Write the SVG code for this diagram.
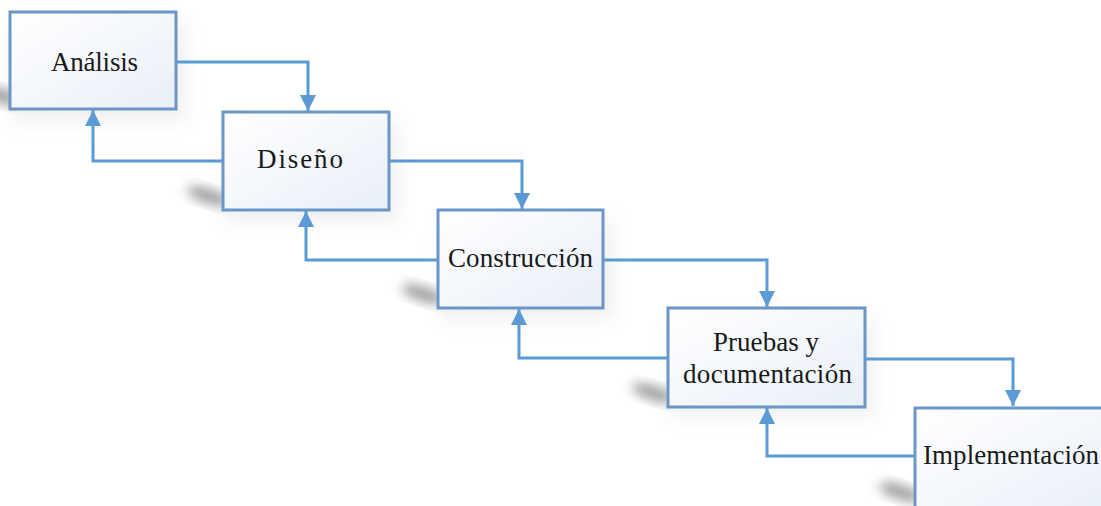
<svg xmlns="http://www.w3.org/2000/svg" width="1101" height="506" viewBox="0 0 1101 506">
<defs>
<linearGradient id="boxfill" x1="0" y1="0" x2="1" y2="1">
<stop offset="0" stop-color="#ffffff"/>
<stop offset="1" stop-color="#e9eff8"/>
</linearGradient>
<filter id="blur" x="-50%" y="-50%" width="200%" height="200%">
<feGaussianBlur stdDeviation="6"/>
</filter>
<filter id="blur2" x="-50%" y="-50%" width="200%" height="200%">
<feGaussianBlur stdDeviation="10"/>
</filter>
<marker id="arrow" viewBox="0 0 16 16" refX="16" refY="8" markerWidth="16" markerHeight="16" markerUnits="userSpaceOnUse" orient="auto">
<path d="M0,0 L16,8 L0,16 Z" fill="#5b9bd5"/>
</marker>
</defs>
<style>
.box{fill:url(#boxfill);stroke:#6b96c6;stroke-width:3}
.shadow{fill:#4a4a4a;opacity:0.55;filter:url(#blur)}
.soft{fill:#9aa0a8;opacity:0.18;filter:url(#blur2)}
.lbl{font-family:"Liberation Serif","Times New Roman",serif;font-size:27px;fill:#1a1a1a}
.conn{fill:none;stroke:#5b9bd5;stroke-width:3;marker-end:url(#arrow)}
</style>
<rect width="1101" height="506" fill="#ffffff"/>
<g id="shadows">
<rect class="soft" x="14" y="24" width="170" height="96"/>
<ellipse class="shadow" cx="2" cy="96" rx="18" ry="7" transform="rotate(18 2 96)"/>
<rect class="soft" x="227" y="124" width="170" height="96"/>
<ellipse class="shadow" cx="208" cy="196" rx="22" ry="7" transform="rotate(18 208 196)"/>
<rect class="soft" x="442" y="222" width="170" height="96"/>
<ellipse class="shadow" cx="423" cy="294" rx="22" ry="7" transform="rotate(18 423 294)"/>
<rect class="soft" x="672" y="320" width="200" height="96"/>
<ellipse class="shadow" cx="653" cy="393" rx="22" ry="7" transform="rotate(18 653 393)"/>
<ellipse class="shadow" cx="900" cy="492" rx="22" ry="7" transform="rotate(18 900 492)"/>
</g>
<g id="connectors">
<path class="conn" d="M176,62 H308 V111"/>
<path class="conn" d="M223,161 H93 V110"/>
<path class="conn" d="M389,161 H522 V209"/>
<path class="conn" d="M438,260 H306 V211"/>
<path class="conn" d="M603,260 H767 V307"/>
<path class="conn" d="M668,358 H519 V309"/>
<path class="conn" d="M865,359 H1013 V406"/>
<path class="conn" d="M915,456 H767 V408"/>
</g>
<g id="analisis">
<rect class="box" x="10" y="12" width="166" height="97"/>
<text class="lbl" x="51" y="71" textLength="87" lengthAdjust="spacing">Análisis</text>
</g>
<g id="diseno">
<rect class="box" x="223" y="112" width="166" height="98"/>
<text class="lbl" x="257" y="168" textLength="86" lengthAdjust="spacing">Diseño</text>
</g>
<g id="construccion">
<rect class="box" x="438" y="210" width="165" height="98"/>
<text class="lbl" x="448" y="267" textLength="145" lengthAdjust="spacing">Construcción</text>
</g>
<g id="pruebas">
<rect class="box" x="668" y="308" width="197" height="99"/>
<text class="lbl" x="713" y="351" textLength="106" lengthAdjust="spacing">Pruebas y</text>
<text class="lbl" x="683" y="383" textLength="169" lengthAdjust="spacing">documentación</text>
</g>
<g id="implementacion">
<rect class="box" x="915" y="408" width="200" height="110"/>
<text class="lbl" x="923" y="464" textLength="176" lengthAdjust="spacing">Implementación</text>
</g>
</svg>
